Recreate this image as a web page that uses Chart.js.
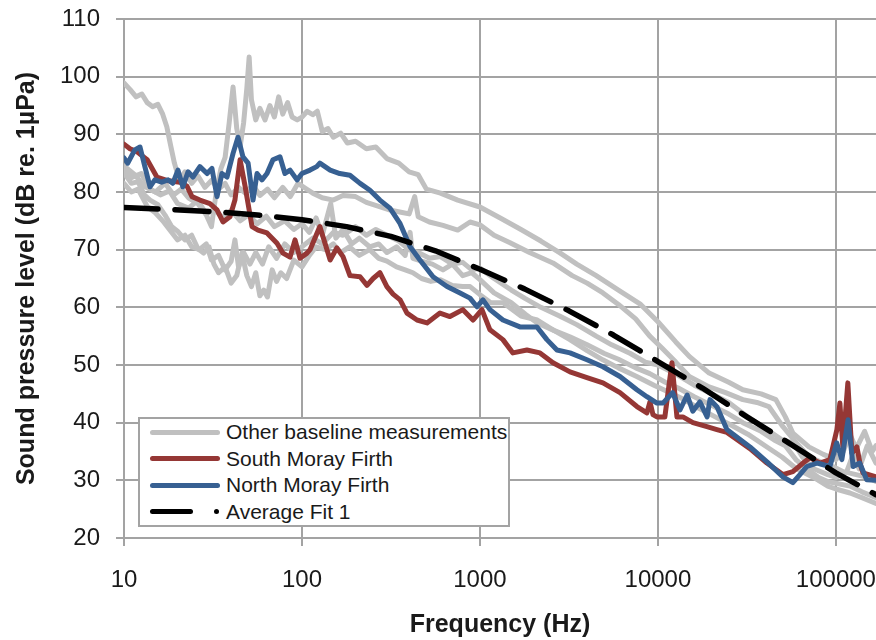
<!DOCTYPE html>
<html>
<head>
<meta charset="utf-8">
<script src="https://cdn.jsdelivr.net/npm/chart.js@4.4.1/dist/chart.umd.min.js"></script>
<style>
    body { margin: 0; background: #fff; }
    #wrap { position: relative; width: 876px; height: 640px; }
    #legendBox {
        position: absolute; left: 138px; top: 417px; width: 368px;
        border: 2px solid #a3a3a3; background: #fff;
        font-family: "Liberation Sans", Arial, sans-serif; font-size: 21px; color: #1a1a1a;
    }
    .row { height: 26.5px; display: flex; align-items: center; white-space: nowrap; }
    .sample { width: 70px; margin-left: 10px; margin-right: 6px; height: 5px; position: relative; }
</style>
</head>
<body>
<div id="wrap">
    <canvas id="chartSpl" width="876" height="640"></canvas>
    <div id="legendBox"></div>
</div>
<script>
//ticks de l'axe des fréquences
const freqTicks = [10, 100, 1000, 10000, 100000];

//South Moray Firth [Hz, dB]
const southMoray = [[10, 88.3], [10.8, 87.5], [11.8, 87], [13.5, 85.6], [15.3, 82.6], [17.4, 82], [20.6, 81.7], [22.6, 81],
    [24.1, 79.2], [26.7, 78.6], [30.4, 78], [33.3, 76.9], [36, 74.8], [39.4, 75.7], [42, 78.6], [44.9, 85.6], [47.9, 81],
    [52.4, 74], [56.6, 73.4], [63.6, 72.9], [72.4, 71.1], [78.2, 69.4], [85.7, 68.7], [91.4, 71.7], [97.5, 68.5], [106.7, 69.4],
    [111, 70], [126, 74], [144, 68.2], [157, 70.3], [170, 68.8], [186, 65.5], [212, 65.3], [232, 63.8], [251, 65], [274, 66],
    [300, 63.6], [325, 62.3], [356, 61.3], [389, 59], [443, 57.8], [504, 57.3], [596, 59], [678, 58.4], [802, 59.6], [914, 57.8],
    [1026, 59.6], [1138, 56.1], [1346, 54.4], [1532, 52.1], [1836, 52.6], [2173, 52.1], [2571, 50.4], [3206, 48.8], [3992, 47.8],
    [4910, 46.9], [6120, 45.2], [7620, 42.8], [8670, 41.7], [9020, 43.6], [9380, 41.4], [9870, 41], [10940, 41], [11990, 50.4],
    [12790, 41], [13810, 41], [15730, 40], [18850, 39.3], [21450, 38.8], [24420, 38.3], [32890, 35.5], [40960, 33], [50350, 31],
    [57300, 31.5], [65330, 33], [71490, 33.9], [81340, 33], [92530, 33.6], [101300, 38.8], [105300, 43.4], [109400, 35.8],
    [116700, 46.9], [123000, 34.7], [131200, 35.8], [136400, 33], [141800, 31.3], [168000, 30.6]];

//North Moray Firth [Hz, dB]
const northMoray = [[10, 85.9], [10.5, 85], [11.5, 87.3], [12.3, 87.8], [13.1, 84.4], [14, 80.9], [14.9, 82.1], [16.3, 81.7],
    [17.7, 82.1], [18.8, 81.5], [20.1, 83.8], [21.4, 80.9], [22.9, 83.5], [24.4, 82.6], [26.7, 84.4], [29.3, 83.2], [31.2, 84.1],
    [33.3, 79.2], [35.5, 83.2], [37.9, 82.6], [41, 86.7], [43.7, 89.5], [46.6, 86.1], [49.8, 85], [53.1, 78.6], [55.9, 83.2],
    [59.6, 82.1], [63.6, 83.2], [68.7, 85.6], [75.2, 86.1], [80.2, 83.2], [85.7, 83.8], [93.8, 82.1], [100, 83.2], [111, 83.8],
    [121, 84.4], [126, 85], [144, 83.8], [163, 83.2], [186, 82.9], [212, 81.5], [241, 80.3], [274, 78.6], [312, 77.2], [356, 74.5],
    [405, 70.5], [460, 68.2], [545, 65.3], [653, 63.6], [773, 62.5], [879, 61.6], [962, 60.1], [1040, 61.3], [1138, 59.6],
    [1346, 57.8], [1678, 56.6], [2091, 56.6], [2378, 54.4], [2708, 52.6], [3206, 52.1], [3992, 50.9], [4910, 49.7], [6120, 48],
    [7620, 45.7], [8670, 44.5], [9870, 43.4], [10700, 43.4], [12100, 45.2], [13300, 42.2], [14600, 44.8], [15700, 42],
    [17200, 43.6], [18900, 41], [19600, 44], [21500, 42.7], [24400, 38.8], [32900, 35.8], [41000, 33.2], [50400, 30.6],
    [57300, 29.6], [62800, 31], [68700, 32.4], [78200, 33], [92500, 32.4], [101000, 36.5], [108000, 33.6], [117000, 40.5],
    [125000, 32.4], [136000, 33], [149000, 30.1], [168000, 30]];

//Average Fit 1 [Hz, dB]
const averageFit = [[10, 77.3], [17.8, 77], [31.6, 76.6], [56.2, 76], [100, 75.2], [178, 74], [316, 72.3], [562, 69.8],
    [1000, 66.6], [1778, 63.2], [3162, 59.4], [5623, 55.2], [10000, 50.6], [17783, 46], [31623, 41], [56234, 36.2],
    [100000, 31.3], [168000, 27.5]];

//Other baseline measurements [Hz, dB]
const otherA = [[10, 84.5], [11.5, 83], [13, 81], [15, 80], [17, 81.5], [19, 79.5], [21, 80.5], [23, 79], [26, 78], [29, 76],
    [31, 74], [33, 80], [35, 84], [37, 86], [39, 92], [41, 98.2], [43, 91], [45, 88], [47, 92], [49, 98], [50.5, 103.4], [52, 96],
    [55, 92.5], [58, 94.5], [62, 92.5], [66, 95], [70, 93], [74, 96.5], [78, 93.5], [83, 95.5], [88, 93], [94, 92.5], [100, 93],
    [107, 94], [115, 93.4], [122, 94], [130, 90.5], [140, 91], [150, 89.5], [165, 90.2], [180, 88.5], [200, 88.8], [230, 87.5],
    [260, 87.8], [300, 85.8], [350, 85], [400, 83.5], [450, 83], [500, 80.5], [600, 79.8], [750, 78.6], [1000, 77.4],
    [1300, 75.5], [1700, 73.5], [2200, 71.5], [2800, 69.5], [3500, 67.5], [4500, 65.5], [6000, 63], [8000, 60.5], [10000, 57.5],
    [12600, 54], [15000, 51.5], [19400, 48.6], [25000, 47], [30000, 45.7], [38000, 45], [46000, 44], [52000, 41], [57300, 38.2],
    [70500, 35.8], [85000, 34.5], [100000, 33.6], [110000, 35], [120000, 38], [130000, 35.5], [145000, 38.5], [160000, 35],
    [168000, 36]];
const otherB = [[10, 98.9], [10.8, 97.8], [11.7, 96.5], [12.6, 97], [13.5, 95.5], [14.5, 94.8], [15.5, 95.2], [16.5, 93.5],
    [17.4, 91.3], [18.3, 88], [19.2, 85], [20.5, 82], [22, 83.5], [24, 81.5], [26, 82.8], [28.5, 80.8], [31, 82], [34, 80.5],
    [37, 81.5], [40, 79.5], [44, 80.8], [48, 79.8], [53, 81.2], [58, 79.4], [64, 80.5], [70, 79], [78, 80.8], [86, 79.2],
    [95, 81.5], [105, 80.6], [115, 79.8], [130, 79], [150, 78.6], [170, 79.4], [200, 79.2], [230, 78.2], [270, 77.5], [310, 76.9],
    [360, 76.5], [400, 76.2], [430, 79.2], [450, 75.7], [520, 74.8], [620, 74.2], [750, 73.4], [880, 74.8], [1000, 74.3],
    [1200, 72.5], [1476, 71.2], [1900, 69.5], [2570, 67.7], [3300, 65.5], [4000, 64.2], [4910, 62.5], [6000, 60.5], [7500, 58],
    [9000, 55], [10500, 53], [12600, 50.5], [15000, 48], [19400, 46.2], [24000, 45.2], [30000, 44], [36000, 43.5], [42000, 42.8],
    [50400, 39.3], [60000, 36.5], [70500, 34.1], [85000, 33], [96000, 32.4], [110000, 31.5], [130000, 31], [150000, 30.5],
    [168000, 29.8]];
const otherC = [[10, 84], [11, 82.5], [12.5, 83.2], [14, 80.5], [16, 79.5], [18, 80.2], [20, 78], [23, 77.2], [26, 78.5],
    [29, 76.2], [32, 77], [36, 75.5], [40, 76.8], [45, 75], [50, 76], [56, 74.5], [63, 75.8], [70, 74], [80, 75], [90, 73.5],
    [100, 74.5], [110, 73], [120, 75.5], [130, 72.5], [145, 78], [155, 72], [170, 73.5], [190, 71], [210, 72], [240, 70.5],
    [270, 71], [300, 69.5], [340, 70.5], [380, 69], [405, 73], [420, 68.5], [470, 68], [540, 67.5], [620, 66.5], [700, 67.5],
    [800, 65.5], [900, 66], [1000, 64.8], [1200, 62.5], [1500, 60.8], [1800, 58.8], [2100, 57.3], [2600, 56], [3200, 54.9],
    [4000, 53.5], [5000, 52], [6000, 51], [7500, 49.5], [9000, 48.5], [11000, 47], [13000, 46], [16000, 44.5], [20000, 43],
    [25000, 41.5], [30000, 40], [38000, 38.5], [45000, 37], [52000, 36], [60000, 33.5], [70000, 31.8], [80000, 30.5],
    [90000, 29.8], [100000, 29.5], [120000, 29], [140000, 28], [168000, 27]];
const otherD = [[10, 83.3], [11, 81.5], [12, 81.8], [13, 79.5], [14, 78.6], [15.5, 77.8], [17, 76], [18.5, 74], [20, 73.2],
    [22, 71.7], [24, 72.5], [26, 70.2], [28, 69.4], [30, 70.5], [32, 67.5], [34, 66], [37, 67], [40, 64.2], [43, 65.5],
    [46, 69.4], [49, 65.5], [52, 63.6], [55, 66], [58, 62], [61, 63], [64, 61.8], [68, 66.5], [72, 64.5], [76, 66], [82, 65],
    [90, 68.2], [100, 67], [110, 69], [120, 70.5], [135, 70], [150, 71], [165, 69.5], [185, 70.5], [210, 69], [240, 70],
    [270, 68.5], [300, 68], [340, 67], [380, 66.5], [420, 66], [470, 65], [530, 64.5], [600, 64.8], [700, 63.8], [800, 63.6],
    [880, 63.6], [1000, 62.2], [1150, 60.8], [1350, 60.8], [1700, 58.5], [2100, 57.8], [2600, 56], [3200, 54.4], [4000, 52.5],
    [4900, 50.9], [6000, 49.5], [7600, 48], [9500, 46.5], [11700, 45.2], [14000, 44], [17000, 42.5], [21000, 41], [26000, 39.5],
    [32000, 38], [40000, 36], [50000, 34], [60000, 32], [75000, 30.5], [90000, 29], [100000, 28.5], [120000, 27.8],
    [140000, 27], [168000, 26]];
const otherE = [[10, 81.5], [11, 80], [12, 80.5], [13.5, 77.5], [15, 76.4], [16.5, 75], [18, 73.5], [20, 71.7], [22, 72.5],
    [24, 70.5], [26.5, 70], [29, 71], [31, 68.2], [34, 69], [37, 66.5], [40, 68], [42, 71.7], [44, 67], [47, 69.5], [51, 67.5],
    [55, 69.5], [60, 67.5], [65, 70.5], [72, 68.5], [80, 71], [90, 69.5], [100, 70.5], [115, 72], [130, 71], [150, 73],
    [170, 72.5], [200, 74], [230, 72.5], [260, 73.5], [300, 72.5], [350, 71.5], [400, 70], [450, 69.5], [520, 68.5], [600, 68.8],
    [700, 67.5], [800, 67.8], [900, 66.5], [1000, 66.8], [1200, 65], [1500, 63], [1800, 61.5], [2200, 60], [2800, 58.5],
    [3500, 57], [4500, 55], [5500, 53.5], [7000, 52], [8500, 50.5], [10000, 50], [12500, 48.5], [16000, 46.5], [20000, 45],
    [25000, 43.5], [32000, 41], [40000, 39], [50000, 37], [58000, 36.5], [65000, 34], [75000, 32], [90000, 31], [100000, 30.5],
    [115000, 31.5], [125000, 34.5], [135000, 32], [150000, 36], [168000, 33]];
const otherSeries = [otherA, otherB, otherC, otherD, otherE];

//couleurs
const greyColor = '#c0c0c0';
const southColor = '#953735';
const northColor = '#376092';
const fitColor = '#000000';
const gridColor = '#a3a3a3';
const textColor = '#1a1a1a';
const fontName = '"Liberation Sans", Arial, sans-serif';

function toPoints(serie) {
    return serie.map(p => ({x: p[0], y: p[1]}));
}

//datasets : fit en dessus, puis north, south, et les autres en dessous
let datasets = [];
otherSeries.forEach((serie, i) => {
    datasets.push({
        label: 'Other baseline measurements',
        data: toPoints(serie),
        borderColor: greyColor,
        borderWidth: 5,
        order: 10 + i
    });
});
datasets.push({label: 'South Moray Firth', data: toPoints(southMoray), borderColor: southColor, borderWidth: 5, order: 3});
datasets.push({label: 'North Moray Firth', data: toPoints(northMoray), borderColor: northColor, borderWidth: 5, order: 2});
datasets.push({label: 'Average Fit 1', data: toPoints(averageFit), borderColor: fitColor, borderWidth: 5.5, borderDash: [34, 17], order: 1});

const ctx = document.getElementById('chartSpl').getContext('2d');
const chartSpl = new Chart(ctx, {
    type: 'line',
    data: {datasets: datasets},
    options: {
        responsive: false,
        animation: false,
        layout: {padding: {top: 19, left: 0, right: 0, bottom: 0}},
        elements: {
            point: {radius: 0},
            line: {tension: 0, borderCapStyle: 'round', borderJoinStyle: 'round'}
        },
        plugins: {
            legend: {display: false},
            tooltip: {enabled: false}
        },
        scales: {
            x: {
                type: 'logarithmic',
                min: 10,
                max: 168000,
                afterBuildTicks: (scale) => {
                    scale.ticks = freqTicks.map(v => ({value: v}));
                },
                afterFit: (scale) => {
                    scale.height = 102;
                    scale.paddingLeft = 0;
                    scale.paddingRight = 0;
                },
                ticks: {
                    autoSkip: false,
                    maxRotation: 0,
                    padding: 20,
                    color: textColor,
                    font: {family: fontName, size: 24},
                    callback: (value) => String(value)
                },
                grid: {color: gridColor, lineWidth: 2, tickLength: 8},
                border: {color: gridColor, width: 2},
                title: {
                    display: true,
                    text: 'Frequency (Hz)',
                    color: textColor,
                    font: {family: fontName, size: 25, weight: 'bold'},
                    padding: {top: 0, bottom: 0}
                }
            },
            y: {
                min: 20,
                max: 110,
                afterFit: (scale) => {
                    scale.width = 124;
                    scale.paddingTop = 0;
                    scale.paddingBottom = 0;
                },
                ticks: {
                    stepSize: 10,
                    padding: 16,
                    color: textColor,
                    font: {family: fontName, size: 24}
                },
                grid: {color: gridColor, lineWidth: 2, tickLength: 8},
                border: {color: gridColor, width: 2},
                title: {
                    display: true,
                    text: 'Sound pressure level (dB re. 1µPa)',
                    color: textColor,
                    font: {family: fontName, size: 25, weight: 'bold'},
                    padding: {top: 12, bottom: 0}
                }
            }
        }
    }
});

//légende dans la zone du graphique
const legendItems = [
    {text: 'Other baseline measurements', color: greyColor, dash: false},
    {text: 'South Moray Firth', color: southColor, dash: false},
    {text: 'North Moray Firth', color: northColor, dash: false},
    {text: 'Average Fit 1', color: fitColor, dash: true}
];
let legendBox = document.getElementById('legendBox');
for (let i = 0; i < legendItems.length; i++) {
    let row = document.createElement('div');
    row.classList.add('row');
    let sample = document.createElement('div');
    sample.classList.add('sample');
    if (legendItems[i].dash) {
        sample.innerHTML = '<div style="position:absolute;left:0;top:0;width:43px;height:5px;border-radius:3px;background:' + legendItems[i].color + '"></div>' +
            '<div style="position:absolute;left:64px;top:0;width:5px;height:5px;border-radius:3px;background:' + legendItems[i].color + '"></div>';
    } else {
        sample.style.background = legendItems[i].color;
        sample.style.borderRadius = '3px';
    }
    row.appendChild(sample);
    let label = document.createElement('span');
    label.innerText = legendItems[i].text;
    row.appendChild(label);
    legendBox.appendChild(row);
}
</script>
</body>
</html>
